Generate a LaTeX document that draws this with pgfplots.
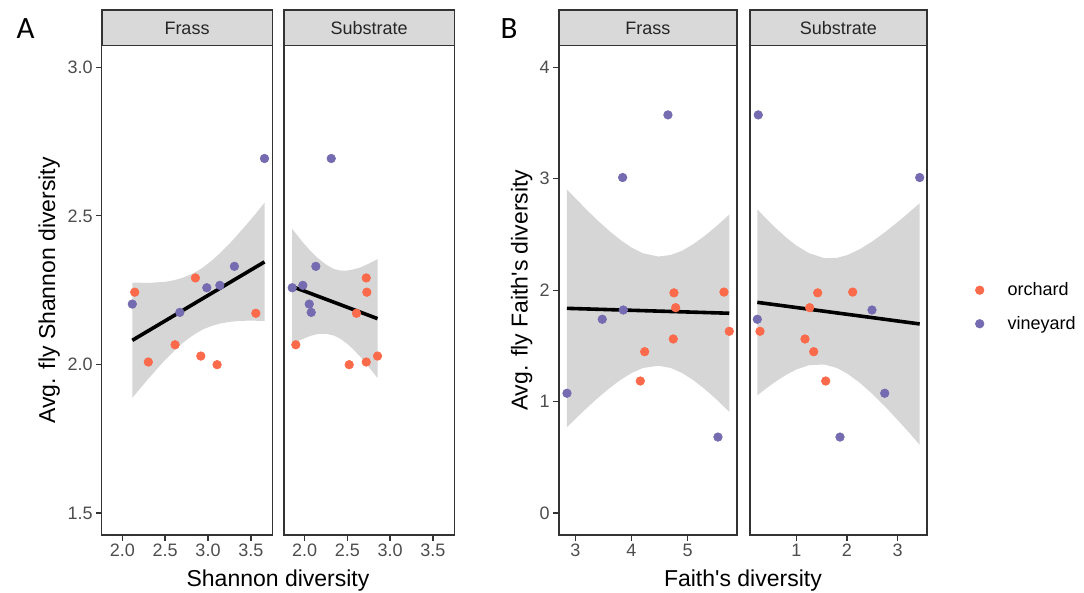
\documentclass[border=0pt]{standalone}
\usepackage{fontspec}
\setmainfont{Liberation Sans}
\newfontfamily\labfont{Carlito}
\usepackage{pgfplots}
\pgfplotsset{compat=1.18}
\definecolor{orch}{HTML}{FB6A4A}
\definecolor{vine}{HTML}{756BB1}
\definecolor{ribbon}{HTML}{D6D6D6}
\definecolor{stripfill}{HTML}{D9D9D9}
\definecolor{grey20}{HTML}{333333}
\definecolor{grey30}{HTML}{4D4D4D}
\newcommand\tickfont{\fontsize{18}{21}\selectfont}
\newcommand\titlefont{\fontsize{23}{27}\selectfont}
\pgfplotsset{
  facet/.style={
    scale only axis, height=489.3pt, anchor=south west,
    axis line style={draw=grey20, line width=1.6pt},
    tick style={draw=grey20, line width=1.3pt},
    tick align=outside, major tick length=5.5pt,
    tick pos=left,
    ticklabel style={font=\tickfont, text=grey30},
    /pgf/number format/assume math mode=true,
  },
  rib/.style={fill=ribbon, draw=none, forget plot},
  fit/.style={black, line width=3.6pt, forget plot},
  dotleg/.style={legend image code/.code={\path[draw=none,fill=none] (0pt,-1pt) rectangle (36pt,1pt); \draw[##1] plot coordinates {(10pt,0pt)};}},
  po/.style={only marks, color=orch, mark=*, mark size=4.3pt, mark options={fill=orch, draw=orch, line width=0.6pt}, dotleg},
  pv/.style={only marks, color=vine, mark=*, mark size=4.3pt, mark options={fill=vine, draw=vine, line width=0.6pt}, dotleg},
  onedec/.style={x tick label style={/pgf/number format/fixed,/pgf/number format/fixed zerofill,/pgf/number format/precision=1}},
}
\begin{document}
\begin{tikzpicture}
\path[use as bounding box] (0pt,0pt) rectangle (1084pt,592pt);
% ---------------- Panel A, Frass
\begin{axis}[facet, onedec, at={(101.7pt,57pt)}, width=170.6pt,
  xmin=1.76, xmax=3.75, ymin=1.4257, ymax=3.0727,
  xtick={2,2.5,3,3.5}, ytick={1.5,2,2.5,3},
  y tick label style={/pgf/number format/fixed,/pgf/number format/fixed zerofill,/pgf/number format/precision=1}]
\addplot[rib] coordinates {(2.117,2.275)(2.2,2.275)(2.3,2.274)(2.4,2.276)(2.5,2.278)(2.6,2.283)(2.7,2.291)(2.8,2.303)(2.875,2.314)(2.95,2.328)(3.05,2.351)(3.15,2.377)(3.25,2.406)(3.35,2.438)(3.45,2.471)(3.55,2.505)(3.659,2.544)
 (3.659,2.146)(3.55,2.147)(3.45,2.147)(3.35,2.146)(3.25,2.143)(3.15,2.138)(3.05,2.130)(2.95,2.119)(2.875,2.107)(2.8,2.093)(2.7,2.071)(2.6,2.044)(2.5,2.015)(2.4,1.983)(2.3,1.950)(2.2,1.916)(2.117,1.887)};
\addplot[fit] coordinates {(2.117,2.081)(3.659,2.345)};
\addplot[po] table {
x y
2.145 2.243
2.853 2.291
3.558 2.172
2.616 2.066
2.304 2.008
2.916 2.028
3.106 1.999
};
\addplot[pv] table {
x y
3.659 2.693
2.986 2.258
3.138 2.266
3.308 2.330
2.117 2.203
2.671 2.175
};
\end{axis}
% ---------------- Panel A, Substrate
\begin{axis}[facet, onedec, at={(284pt,57pt)}, width=170.3pt,
  xmin=1.76, xmax=3.75, ymin=1.4257, ymax=3.0727,
  xtick={2,2.5,3,3.5}, ytick=\empty]
\addplot[rib] coordinates {(1.856,2.456)(1.93,2.429)(2.0,2.404)(2.07,2.382)(2.15,2.359)(2.25,2.336)(2.343,2.321)(2.42,2.316)(2.5,2.316)(2.575,2.320)(2.65,2.326)(2.75,2.339)(2.853,2.354)
 (2.853,1.954)(2.75,1.992)(2.65,2.026)(2.575,2.049)(2.5,2.069)(2.42,2.086)(2.343,2.097)(2.25,2.103)(2.15,2.102)(2.07,2.096)(2.0,2.088)(1.93,2.079)(1.856,2.068)};
\addplot[fit] coordinates {(1.856,2.262)(2.853,2.154)};
\addplot[po] table {
x y
2.721 2.291
2.728 2.243
2.607 2.172
1.898 2.066
2.522 1.999
2.721 2.008
2.853 2.028
};
\addplot[pv] table {
x y
2.312 2.693
1.856 2.258
1.980 2.266
2.132 2.330
2.055 2.203
2.078 2.175
};
\end{axis}
% ---------------- Panel B, Frass
\begin{axis}[facet, at={(558.7pt,57pt)}, width=178.3pt,
  xmin=2.705, xmax=5.878, ymin=-0.197, ymax=4.194,
  xtick={3,4,5}, ytick={0,1,2,3,4}]
\addplot[rib] coordinates {(2.852,2.904)(3.0,2.826)(3.2,2.723)(3.4,2.625)(3.6,2.534)(3.8,2.452)(4.0,2.383)(4.2,2.332)(4.477,2.302)(4.7,2.316)(4.9,2.354)(5.1,2.413)(5.3,2.486)(5.5,2.569)(5.74,2.678)
 (5.74,0.909)(5.5,1.025)(5.3,1.114)(5.1,1.193)(4.9,1.257)(4.7,1.302)(4.477,1.322)(4.2,1.301)(4.0,1.256)(3.8,1.193)(3.6,1.117)(3.4,1.032)(3.2,0.940)(3.0,0.844)(2.852,0.770)};
\addplot[fit] coordinates {(2.852,1.837)(5.74,1.793)};
\addplot[po] table {
x y
4.756 1.976
5.646 1.983
4.786 1.843
5.740 1.631
4.744 1.562
4.235 1.448
4.157 1.185
};
\addplot[pv] table {
x y
4.649 3.573
3.843 3.011
3.854 1.822
3.480 1.739
2.852 1.075
5.539 0.682
};
\end{axis}
% ---------------- Panel B, Substrate
\begin{axis}[facet, at={(749.7pt,57pt)}, width=177.3pt,
  xmin=0.081, xmax=3.578, ymin=-0.197, ymax=4.194,
  xtick={1,2,3}, ytick=\empty,
  legend style={at={(axis description cs:1.2228,0.466)}, anchor=west, draw=none, fill=none,
    font=\tickfont, row sep=15pt, legend cell align=left}]
\addplot[rib] coordinates {(0.231,2.726)(0.4,2.645)(0.6,2.555)(0.8,2.473)(1.0,2.401)(1.25,2.332)(1.553,2.288)(1.8,2.290)(2.0,2.314)(2.25,2.367)(2.5,2.438)(2.75,2.521)(3.0,2.612)(3.2,2.688)(3.434,2.781)
 (3.434,0.612)(3.2,0.734)(3.0,0.835)(2.75,0.956)(2.5,1.069)(2.25,1.170)(2.0,1.253)(1.8,1.302)(1.553,1.333)(1.25,1.327)(1.0,1.288)(0.8,1.240)(0.6,1.182)(0.4,1.116)(0.231,1.056)};
\addplot[fit] coordinates {(0.231,1.891)(3.434,1.697)};
\addplot[po] table {
x y
1.422 1.976
2.112 1.983
1.264 1.843
0.284 1.631
1.172 1.562
1.343 1.448
1.580 1.185
};
\addlegendentry{orchard}
\addplot[pv] table {
x y
0.250 3.573
3.434 3.011
2.493 1.822
0.231 1.739
2.744 1.075
1.862 0.682
};
\addlegendentry{vineyard}
\end{axis}
% ---------------- strips
\foreach \xa/\xb/\lab in {101.7/272.3/Frass, 284/454.3/Substrate, 558.7/737/Frass, 749.7/927/Substrate}{
  \draw[fill=stripfill, draw=grey20, line width=1.6pt] (\xa pt,546.3pt) rectangle (\xb pt,582pt);
  \node[font=\tickfont, text=black!85, anchor=base, inner sep=0pt] at ({(\xa+\xb)/2*1pt},557.7pt) {\lab};
}
% ---------------- axis titles
\node[font=\titlefont, anchor=base, inner sep=0pt] at (278pt,6pt) {Shannon diversity};
\node[font=\titlefont, anchor=base, inner sep=0pt] at (742.9pt,6pt) {Faith\textquotesingle s diversity};
\node[font=\titlefont, anchor=base, inner sep=0pt, rotate=90] at (55pt,301.7pt) {Avg. fly Shannon diversity};
\node[font=\titlefont, anchor=base, inner sep=0pt, rotate=90] at (527.7pt,301.7pt) {Avg. fly Faith\textquotesingle s diversity};
% ---------------- panel labels
\node[font=\labfont\fontsize{31}{33}\selectfont, anchor=base west, inner sep=0pt] at (16.5pt,553pt) {A};
\node[font=\labfont\fontsize{31}{33}\selectfont, anchor=base west, inner sep=0pt] at (500.5pt,553pt) {B};
\end{tikzpicture}
\end{document}
